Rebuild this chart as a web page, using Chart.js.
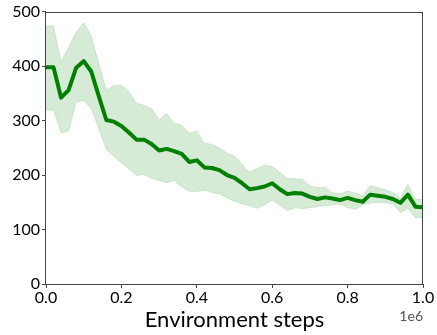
<!DOCTYPE html>
<html lang="en">
<head>
    <meta charset="UTF-8">
    <title>Environment steps</title>
    <script src="https://cdn.jsdelivr.net/npm/chart.js"></script>
    <style>
        html, body { margin: 0; padding: 0; background: #fff; }
        #wrap { width: 437px; height: 335px; }
    </style>
</head>
<body>
    <div id="wrap"><canvas id="chart"></canvas></div>
    <script>
        // x positions, in millions of environment steps
        const steps = [0, 0.02, 0.04, 0.06, 0.08, 0.10, 0.12, 0.14, 0.16, 0.18,
            0.20, 0.22, 0.24, 0.26, 0.28, 0.30, 0.32, 0.34, 0.36, 0.38,
            0.40, 0.42, 0.44, 0.46, 0.48, 0.50, 0.52, 0.54, 0.56, 0.58,
            0.60, 0.62, 0.64, 0.66, 0.68, 0.70, 0.72, 0.74, 0.76, 0.78,
            0.80, 0.82, 0.84, 0.86, 0.88, 0.90, 0.92, 0.94, 0.96, 0.98, 1.00];

        const meanValues = [398, 398, 342, 356, 397, 409, 390, 345, 301, 298,
            290, 278, 265, 265, 257, 245, 248, 244, 239, 224,
            227, 214, 213, 209, 200, 195, 185, 174, 176, 179,
            185, 174, 165, 167, 166, 160, 156, 159, 157, 154,
            158, 154, 151, 164, 162, 160, 156, 149, 164, 142, 141];

        const upperValues = [474, 474, 407, 435, 462, 480, 455, 405, 356, 364,
            365, 353, 332, 328, 322, 301, 313, 295, 292, 277,
            281, 259, 256, 250, 240, 235, 220, 205, 212, 218,
            216, 205, 194, 193, 192, 180, 177, 178, 168, 165,
            171, 167, 162, 181, 177, 173, 168, 159, 183, 156, 155];

        const lowerValues = [319, 319, 277, 281, 333, 337, 322, 285, 247, 234,
            222, 211, 199, 201, 194, 190, 186, 190, 178, 170,
            170, 172, 168, 165, 158, 152, 147, 143, 139, 145,
            154, 144, 135, 140, 138, 140, 142, 144, 145, 147,
            140, 137, 145, 148, 150, 149, 147, 131, 138, 122, 121];

        const xTicks = [0, 0.2, 0.4, 0.6, 0.8, 1.0];
        const yTicks = [0, 100, 200, 300, 400, 500];

        const FONT = 'Lato, "Open Sans", sans-serif';
        const AXIS_COLOR = '#444';

        function toPoints(values) {
            return values.map((v, i) => ({ x: steps[i], y: v }));
        }

        // box around the plot area plus the "1e6" offset text
        const framePlugin = {
            id: 'frame',
            afterDraw(chart) {
                const { ctx, chartArea: a } = chart;
                ctx.save();
                ctx.strokeStyle = AXIS_COLOR;
                ctx.lineWidth = 1;
                ctx.strokeRect(Math.round(a.left) - 0.5, Math.round(a.top) + 0.5,
                    Math.round(a.right - a.left), Math.round(a.bottom - a.top));
                ctx.fillStyle = '#555';
                ctx.font = '14px ' + FONT;
                ctx.textAlign = 'right';
                ctx.textBaseline = 'middle';
                ctx.fillText('1e6', a.right, 316);
                ctx.restore();
            }
        };

        new Chart(document.getElementById('chart'), {
            type: 'line',
            data: {
                datasets: [
                    {
                        data: toPoints(meanValues),
                        borderColor: '#008000',
                        borderWidth: 4,
                        borderJoinStyle: 'round',
                        pointRadius: 0,
                        fill: false
                    },
                    {
                        data: toPoints(upperValues),
                        borderColor: 'rgba(0,128,0,0.12)',
                        borderWidth: 1,
                        backgroundColor: 'rgba(0,128,0,0.16)',
                        pointRadius: 0,
                        fill: '+1'
                    },
                    {
                        data: toPoints(lowerValues),
                        borderColor: 'rgba(0,128,0,0.12)',
                        borderWidth: 1,
                        pointRadius: 0,
                        fill: false
                    }
                ]
            },
            options: {
                responsive: true,
                maintainAspectRatio: false,
                animation: false,
                layout: { padding: { left: 0, right: 14, top: 9, bottom: 0 } },
                plugins: {
                    legend: { display: false },
                    tooltip: { enabled: false }
                },
                scales: {
                    x: {
                        type: 'linear',
                        min: 0,
                        max: 1,
                        afterFit: s => { s.height = 51; },
                        afterBuildTicks: s => { s.ticks = xTicks.map(v => ({ value: v })); },
                        ticks: {
                            color: '#000',
                            font: { family: FONT, size: 16 },
                            padding: 0,
                            maxRotation: 0,
                            callback: v => v.toFixed(1)
                        },
                        grid: { drawOnChartArea: false, drawTicks: true, tickLength: 4, color: AXIS_COLOR },
                        border: { display: false },
                        title: {
                            display: true,
                            text: 'Environment steps',
                            color: '#000',
                            font: { family: FONT, size: 22 },
                            padding: { top: 0, bottom: 2 }
                        }
                    },
                    y: {
                        min: 0,
                        max: 500,
                        afterFit: s => { s.width = 46; },
                        afterBuildTicks: s => { s.ticks = yTicks.map(v => ({ value: v })); },
                        ticks: {
                            color: '#000',
                            font: { family: FONT, size: 16 },
                            padding: 2
                        },
                        grid: { drawOnChartArea: false, drawTicks: true, tickLength: 4, color: AXIS_COLOR },
                        border: { display: false }
                    }
                }
            },
            plugins: [framePlugin]
        });
    </script>
</body>
</html>
